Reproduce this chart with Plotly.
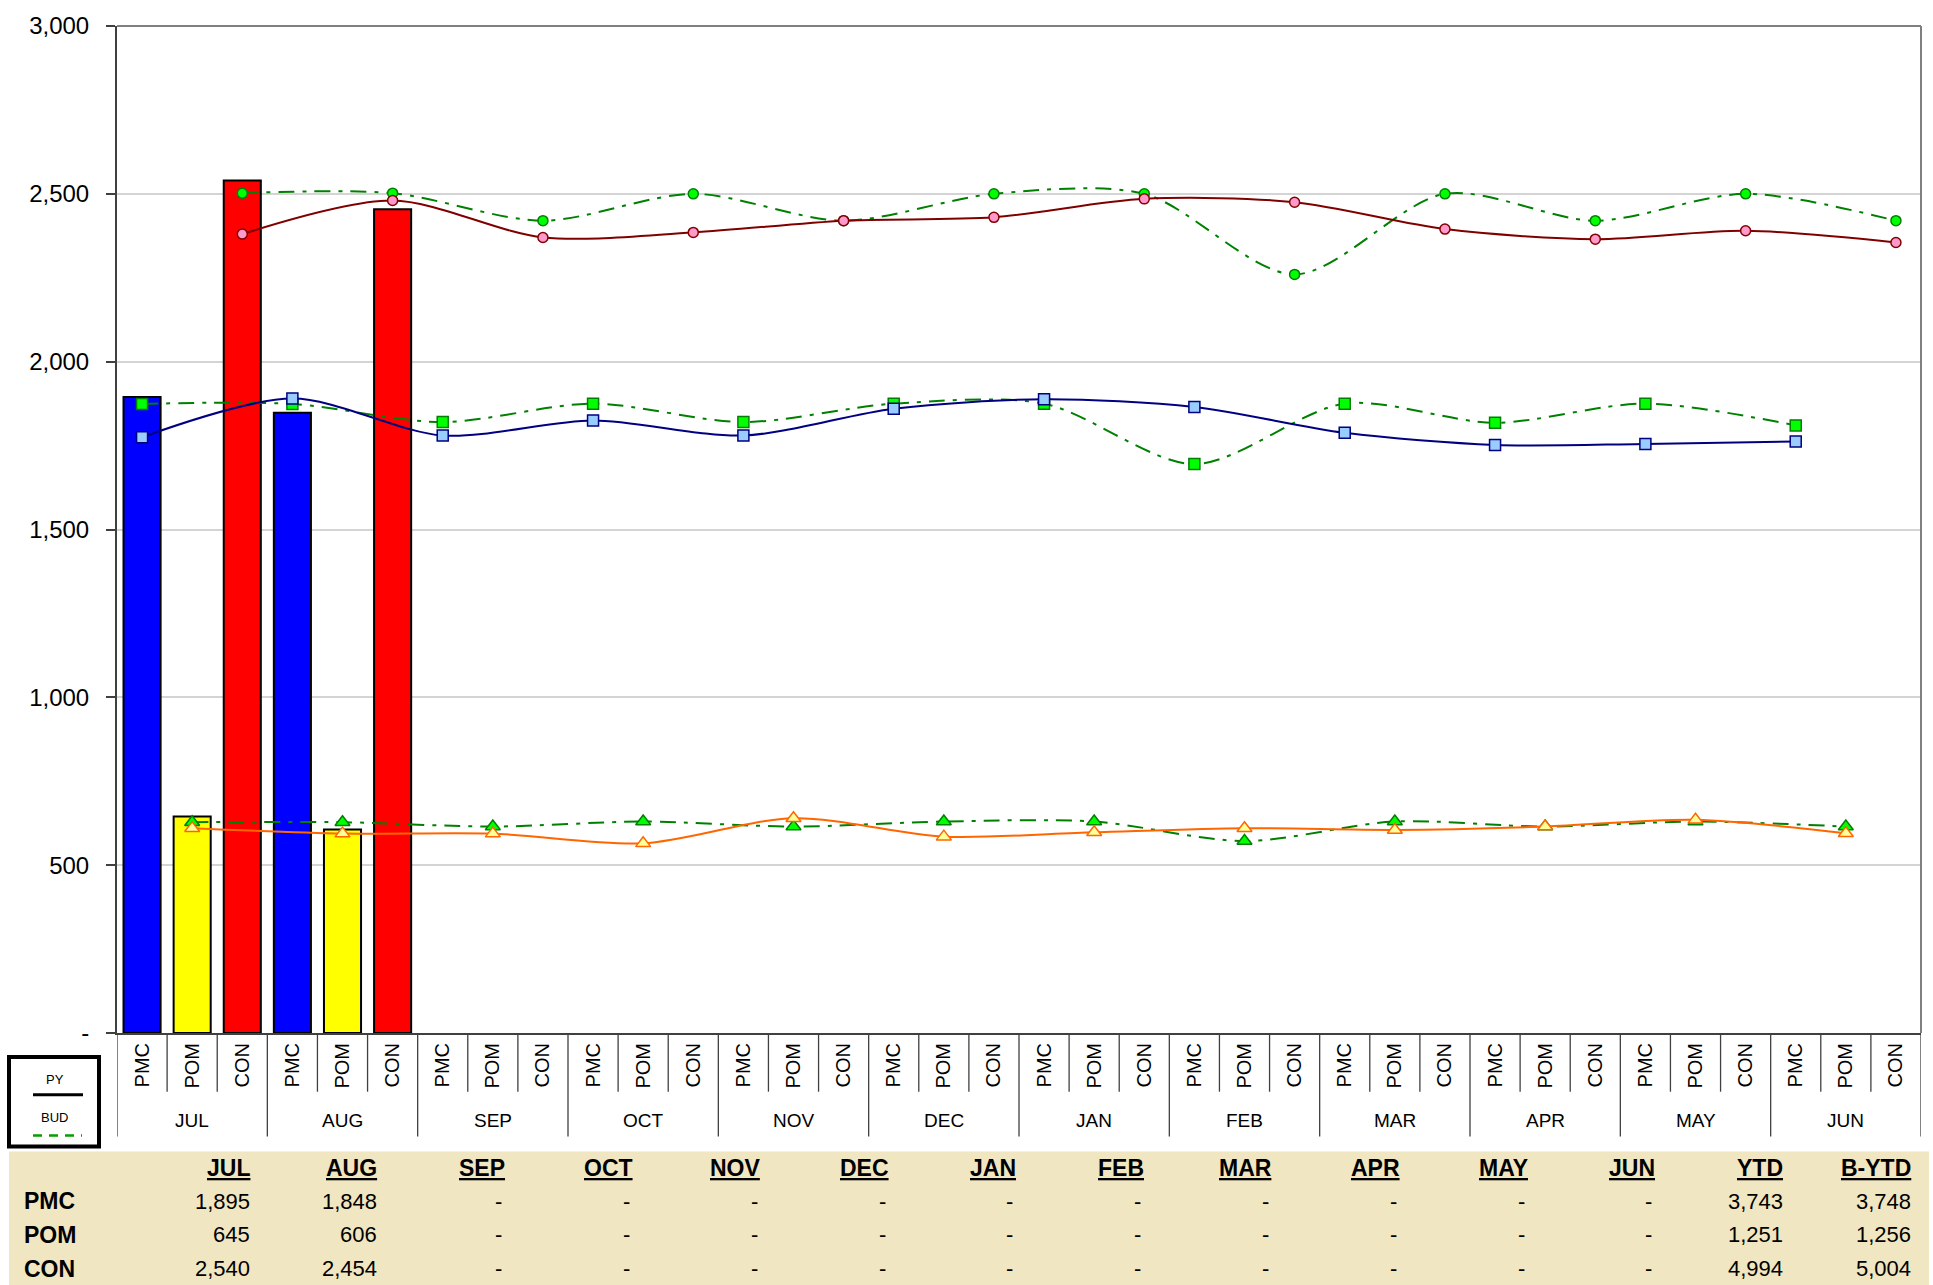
import plotly.graph_objects as go

# ---------------- data ----------------
months = ["JUL", "AUG", "SEP", "OCT", "NOV", "DEC", "JAN", "FEB", "MAR", "APR", "MAY", "JUN"]
subcats = ["PMC", "POM", "CON"]

# actuals (bars + table)
act_pmc = [1895, 1848, None, None, None, None, None, None, None, None, None, None]
act_pom = [645, 606, None, None, None, None, None, None, None, None, None, None]
act_con = [2540, 2454, None, None, None, None, None, None, None, None, None, None]

# prior year (solid smoothed lines)
py_pmc = [1775, 1890, 1780, 1825, 1780, 1860, 1888, 1865, 1788, 1752, 1755, 1762]
py_pom = [610, 594, 594, 565, 640, 585, 598, 610, 605, 615, 635, 595]
py_con = [2380, 2480, 2370, 2385, 2420, 2430, 2485, 2475, 2395, 2365, 2390, 2355]

# budget (dash-dot smoothed lines)
bud_pmc = [1874, 1874, 1820, 1875, 1820, 1875, 1875, 1695, 1875, 1818, 1875, 1810]
bud_pom = [628, 628, 615, 630, 615, 630, 630, 572, 630, 615, 630, 615]
bud_con = [2502, 2502, 2420, 2500, 2420, 2500, 2500, 2260, 2500, 2420, 2500, 2420]

ytd = [3743, 1251, 4994]
bytd = [3748, 1256, 5004]

ytick_vals = [0, 500, 1000, 1500, 2000, 2500, 3000]
ytick_text = ["-", "500", "1,000", "1,500", "2,000", "2,500", "3,000"]
table_cols = months + ["YTD", "B-YTD"]

# ---------------- geometry helpers ----------------
W, H = 1933, 1285
L, R, T, B = 117, 1921, 21, 1033
PW, PH = R - L, B - T


def fx(px):
    return (px - L) / PW


def fy(py):
    return (B - py) / PH


NARROW = "Liberation Sans Narrow, Arial Narrow, Liberation Sans, Arial, sans-serif"
SANS = "Liberation Sans, Arial, sans-serif"


def xpos(m, s):
    return 3 * m + s


fig = go.Figure()

# bars
bar_colors = ["#0000FF", "#FFFF00", "#FF0000"]
for s, (name, vals) in enumerate(zip(subcats, [act_pmc, act_pom, act_con])):
    xs = [xpos(m, s) for m, v in enumerate(vals) if v is not None]
    ys = [v for v in vals if v is not None]
    fig.add_trace(go.Bar(x=xs, y=ys, width=0.74, name=name,
                         marker=dict(color=bar_colors[s], line=dict(color="#000000", width=2)),
                         showlegend=False))

GREEN = "#008000"
LIME = "#00FF00"
DASHDOT = "16px,8px,4px,8px"
symbols = ["square", "triangle-up", "circle"]
sizes = [11, 13, 10]
SMOOTH = 0.85

# budget lines
for s, vals in enumerate([bud_pmc, bud_pom, bud_con]):
    fig.add_trace(go.Scatter(
        x=[xpos(m, s) for m in range(12)], y=vals, mode="lines+markers",
        line=dict(color=GREEN, width=2, dash=DASHDOT, shape="spline", smoothing=SMOOTH),
        marker=dict(symbol=symbols[s], size=sizes[s], color=LIME, line=dict(color=GREEN, width=1.5)),
        showlegend=False))

# prior-year lines
py_line = ["#000080", "#FF6600", "#800000"]
py_fill = ["#99CCFF", "#FFFF99", "#FF99CC"]
for s, vals in enumerate([py_pmc, py_pom, py_con]):
    fig.add_trace(go.Scatter(
        x=[xpos(m, s) for m in range(12)], y=vals, mode="lines+markers",
        line=dict(color=py_line[s], width=2, shape="spline", smoothing=SMOOTH),
        marker=dict(symbol=symbols[s], size=sizes[s], color=py_fill[s], line=dict(color=py_line[s], width=1.5)),
        showlegend=False))

shapes = []
# category tick marks / month dividers
for k in range(37):
    deep = (k % 3 == 0)
    shapes.append(dict(type="line", xref="x", yref="paper", x0=k - 0.5, x1=k - 0.5,
                       y0=0, y1=fy(1137 if deep else 1092),
                       line=dict(color="#404040", width=1.3)))
# plot frame (top/right grey)
shapes.append(dict(type="line", xref="paper", yref="paper", x0=0, x1=1, y0=1, y1=1,
                   line=dict(color="#808080", width=2)))
shapes.append(dict(type="line", xref="paper", yref="paper", x0=1, x1=1, y0=0, y1=1,
                   line=dict(color="#808080", width=2)))
# legend box
shapes.append(dict(type="rect", xref="paper", yref="paper", x0=fx(9), x1=fx(99), y0=fy(1057), y1=fy(1147),
                   line=dict(color="#000000", width=4), fillcolor="#FFFFFF"))
shapes.append(dict(type="line", xref="paper", yref="paper", x0=fx(33), x1=fx(83), y0=fy(1095), y1=fy(1095),
                   line=dict(color="#000000", width=3)))
shapes.append(dict(type="line", xref="paper", yref="paper", x0=fx(33), x1=fx(82), y0=fy(1136), y1=fy(1136),
                   line=dict(color="#00A000", width=2.5, dash="9px,7px")))
# table background
shapes.append(dict(type="rect", xref="paper", yref="paper", x0=fx(9), x1=fx(1929), y0=fy(1152), y1=fy(1290),
                   line=dict(width=0), fillcolor="#F0E6C1", layer="below"))

ann = []
# month labels
for m, mo in enumerate(months):
    ann.append(dict(x=xpos(m, 1), y=fy(1121), xref="x", yref="paper", text=mo, showarrow=False,
                    font=dict(family=NARROW, size=19, color="#000000"), xanchor="center", yanchor="middle"))
# legend text
ann.append(dict(x=fx(55), y=fy(1080), xref="paper", yref="paper", text="PY", showarrow=False,
                font=dict(family=NARROW, size=13, color="#000000"), xanchor="center", yanchor="middle"))
ann.append(dict(x=fx(55), y=fy(1118), xref="paper", yref="paper", text="BUD", showarrow=False,
                font=dict(family=NARROW, size=13, color="#000000"), xanchor="center", yanchor="middle"))

# table
col_right = [251.5 + i * 127.8 for i in range(len(table_cols))]
row_y = [1202, 1236, 1270]
for i, c in enumerate(table_cols):
    ann.append(dict(x=fx(col_right[i]), y=fy(1169), xref="paper", yref="paper",
                    text="<b><u>" + c + "</u></b>", showarrow=False,
                    font=dict(family=NARROW, size=23, color="#000000"), xanchor="right", yanchor="middle"))
for r, (lab, vals) in enumerate(zip(subcats, [act_pmc, act_pom, act_con])):
    ann.append(dict(x=fx(22), y=fy(row_y[r]), xref="paper", yref="paper", text="<b>" + lab + "</b>",
                    showarrow=False, font=dict(family=NARROW, size=23, color="#000000"),
                    xanchor="left", yanchor="middle"))
    cells = [("{:,}".format(v) if v is not None else "-") for v in vals] + \
            ["{:,}".format(ytd[r]), "{:,}".format(bytd[r])]
    for i, t in enumerate(cells):
        xr = col_right[i] - (3 if t == "-" else 0)
        ann.append(dict(x=fx(xr), y=fy(row_y[r]), xref="paper", yref="paper", text=t, showarrow=False,
                        font=dict(family=NARROW, size=22, color="#000000"), xanchor="right", yanchor="middle"))

fig.update_layout(
    width=W, height=H,
    margin=dict(l=L, r=W - R, t=T, b=H - B, pad=0),
    paper_bgcolor="#FFFFFF", plot_bgcolor="#FFFFFF",
    barmode="overlay",
    shapes=shapes, annotations=ann,
    showlegend=False,
    xaxis=dict(type="linear", range=[-0.5, 35.5], showgrid=False, zeroline=False,
               tickmode="array", tickvals=list(range(36)), ticktext=subcats * 12,
               tickangle=-90, ticks="", showline=True, linecolor="#404040", linewidth=2,
               tickfont=dict(family=SANS, size=20, color="#000000"), ticklabelstandoff=0),
    yaxis=dict(range=[0, 3000], tickmode="array", tickvals=ytick_vals, ticktext=ytick_text,
               showgrid=True, gridcolor="#D4D4D4", gridwidth=1.5, zeroline=False,
               showline=True, linecolor="#404040", linewidth=2, ticks="outside", ticklen=9,
               tickcolor="#404040", tickwidth=1.5,
               tickfont=dict(family=SANS, size=24, color="#000000"), ticklabelstandoff=12),
)

fig.write_html("out.html", config={"displayModeBar": False},
               post_script="document.body.style.margin='0';document.body.style.overflow='hidden';")
